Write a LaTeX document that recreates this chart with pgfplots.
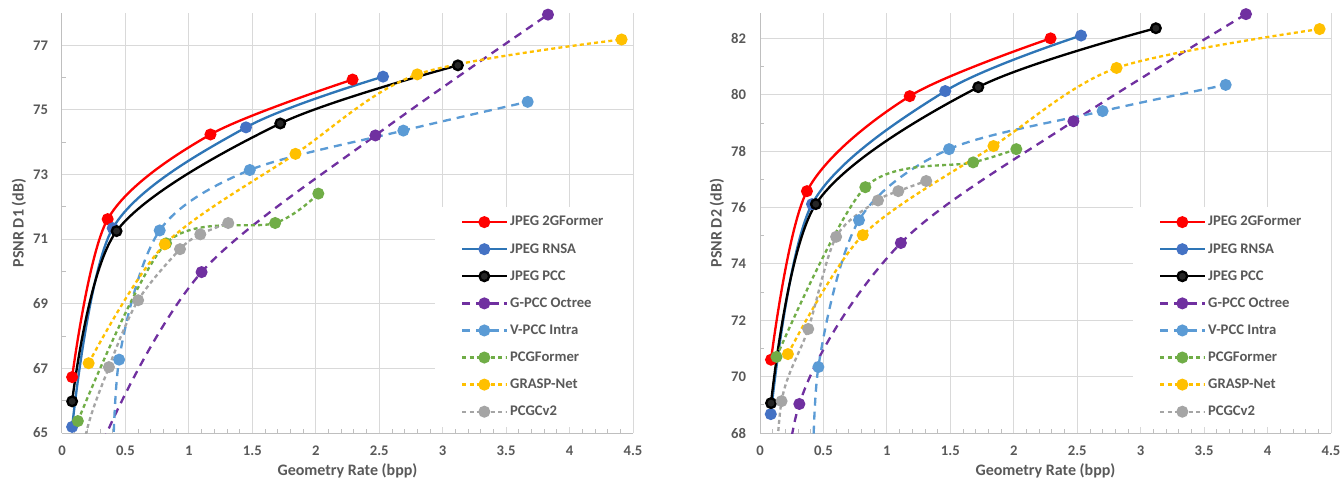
\documentclass[border=0pt]{standalone}
\usepackage{fontspec}
\setmainfont{Carlito}
\usepackage{pgfplots}
\pgfplotsset{compat=1.18}

\definecolor{c2g}{HTML}{FF0000}
\definecolor{rnsaL}{HTML}{2E75B6}
\definecolor{rnsaM}{HTML}{4472C4}
\definecolor{pccM}{HTML}{262626}
\definecolor{gpcc}{HTML}{7030A0}
\definecolor{vpcc}{HTML}{5B9BD5}
\definecolor{pcgf}{HTML}{70AD47}
\definecolor{grasp}{HTML}{FFC000}
\definecolor{pcgc}{HTML}{A5A5A5}
\definecolor{txt}{HTML}{595959}
\definecolor{gridc}{HTML}{D9D9D9}
\definecolor{axc}{HTML}{BFBFBF}

\pgfplotsset{
  rdplot/.style={
    scale only axis, width=428.25pt, height=315pt,
    xmin=0, xmax=4.5, xtick={0,0.5,...,4.5}, minor x tick num=4,
    axis x line*=bottom, axis y line*=left,
    axis line style={-, color=axc, line width=0.75pt},
    grid=major, major grid style={color=gridc, line width=0.75pt},
    tick align=inside, major tick length=0pt, minor tick length=3pt,
    minor tick style={color=axc, line width=0.6pt},
    /pgf/number format/assume math mode=true,
    ticklabel style={font=\fontsize{11}{13}\selectfont\bfseries, text=txt},
    xticklabel style={yshift=-6.5pt},
    yticklabel style={xshift=-7pt},
    label style={font=\fontsize{12}{14}\selectfont\bfseries, text=txt},
    xlabel style={at={(axis description cs:0.5,-0.0905)}, anchor=center},
    ylabel style={at={(axis description cs:-0.0753,0.5)}, anchor=center, rotate=0},
    legend style={at={(1,0.014)}, anchor=south east, draw=none, fill=white,
      font=\fontsize{11}{13}\selectfont\bfseries, text=txt,
      inner xsep=20pt, inner ysep=5pt, row sep=7.6pt, cells={anchor=west}},
    legend image code/.code={%
      \draw[mark repeat=2,mark phase=2] plot coordinates {(0pt,0pt)(16.5pt,0pt)(33pt,0pt)};},
    xlabel={Geometry Rate (bpp)},
  },
  solidS/.style={smooth, line width=1.75pt, mark=*, mark size=3.6pt},
  dashL/.style={smooth, line width=1.75pt, dash pattern=on 6pt off 4.5pt, mark=*, mark size=3.6pt},
  dashS/.style={smooth, line width=1.75pt, dash pattern=on 3pt off 2.4pt, mark=*, mark size=3.6pt},
}

\begin{document}
\begin{tikzpicture}
\useasboundingbox (-46.5pt,-35.25pt) rectangle (960.75pt,324.75pt);

% ---- left: D1 ----
\begin{axis}[rdplot, ymin=65, ymax=78, ytick={65,67,...,77}, minor y tick num=1,
  ylabel={PSNR D1 (dB)}]
\addplot[solidS, color=c2g, mark options={solid, fill=c2g, draw=c2g}] coordinates {(0.08,66.73) (0.36,71.62) (1.17,74.24) (2.29,75.94)};
\addlegendentry{JPEG 2GFormer}
\addplot[solidS, color=rnsaL, mark options={solid, fill=rnsaM, draw=rnsaM}] coordinates {(0.08,65.19) (0.40,71.34) (1.45,74.46) (2.53,76.03)};
\addlegendentry{JPEG RNSA}
\addplot[solidS, color=black, mark options={solid, fill=pccM, draw=black}] coordinates {(0.08,65.98) (0.43,71.25) (1.72,74.58) (3.12,76.38)};
\addlegendentry{JPEG PCC}
\addplot[dashL, color=gpcc, mark options={solid, fill=gpcc, draw=gpcc}] coordinates {(0.12,60.5) (0.31,64.6) (1.10,69.98) (2.47,74.21) (3.83,77.95)};
\addlegendentry{G-PCC Octree}
\addplot[dashL, color=vpcc, mark options={solid, fill=vpcc, draw=vpcc}] coordinates {(0.39,62.0) (0.45,67.27) (0.77,71.27) (1.48,73.14) (2.69,74.36) (3.67,75.25)};
\addlegendentry{V-PCC Intra}
\addplot[dashS, color=pcgf, mark options={solid, fill=pcgf, draw=pcgf}] coordinates {(0.125,65.37) (0.82,70.87) (1.68,71.50) (2.02,72.41)};
\addlegendentry{PCGFormer}
\addplot[dashS, color=grasp, mark options={solid, fill=grasp, draw=grasp}] coordinates {(0.21,67.16) (0.81,70.84) (1.84,73.64) (2.80,76.10) (4.41,77.18)};
\addlegendentry{GRASP-Net}
\addplot[dashS, color=pcgc, mark options={solid, fill=pcgc, draw=pcgc}] coordinates {(0.10,60.5) (0.17,64.6) (0.37,67.04) (0.60,69.11) (0.93,70.69) (1.09,71.15) (1.31,71.50)};
\addlegendentry{PCGCv2}
\end{axis}

% ---- right: D2 ----
\begin{axis}[rdplot, xshift=523.5pt, ymin=68, ymax=82.9, ytick={68,70,...,82}, minor y tick num=1,
  ylabel={PSNR D2 (dB)}]
\addplot[solidS, color=c2g, mark options={solid, fill=c2g, draw=c2g}] coordinates {(0.087,70.60) (0.37,76.58) (1.18,79.95) (2.29,82.00)};
\addlegendentry{JPEG 2GFormer}
\addplot[solidS, color=rnsaL, mark options={solid, fill=rnsaM, draw=rnsaM}] coordinates {(0.085,68.67) (0.41,76.12) (1.46,80.13) (2.53,82.10)};
\addlegendentry{JPEG RNSA}
\addplot[solidS, color=black, mark options={solid, fill=pccM, draw=black}] coordinates {(0.087,69.06) (0.44,76.12) (1.72,80.27) (3.12,82.36)};
\addlegendentry{JPEG PCC}
\addplot[dashL, color=gpcc, mark options={solid, fill=gpcc, draw=gpcc}] coordinates {(0.08,60.5) (0.31,69.03) (1.11,74.74) (2.47,79.06) (3.83,82.86)};
\addlegendentry{G-PCC Octree}
\addplot[dashL, color=vpcc, mark options={solid, fill=vpcc, draw=vpcc}] coordinates {(0.41,64.5) (0.46,70.34) (0.78,75.55) (1.49,78.07) (2.70,79.42) (3.67,80.35)};
\addlegendentry{V-PCC Intra}
\addplot[dashS, color=pcgf, mark options={solid, fill=pcgf, draw=pcgf}] coordinates {(0.13,70.70) (0.83,76.72) (1.68,77.60) (2.02,78.07)};
\addlegendentry{PCGFormer}
\addplot[dashS, color=grasp, mark options={solid, fill=grasp, draw=grasp}] coordinates {(0.22,70.80) (0.81,75.02) (1.84,78.18) (2.81,80.95) (4.41,82.33)};
\addlegendentry{GRASP-Net}
\addplot[dashS, color=pcgc, mark options={solid, fill=pcgc, draw=pcgc}] coordinates {(0.10,64.5) (0.17,69.13) (0.38,71.69) (0.60,74.96) (0.93,76.25) (1.09,76.58) (1.31,76.94)};
\addlegendentry{PCGCv2}
\end{axis}
\end{tikzpicture}
\end{document}
